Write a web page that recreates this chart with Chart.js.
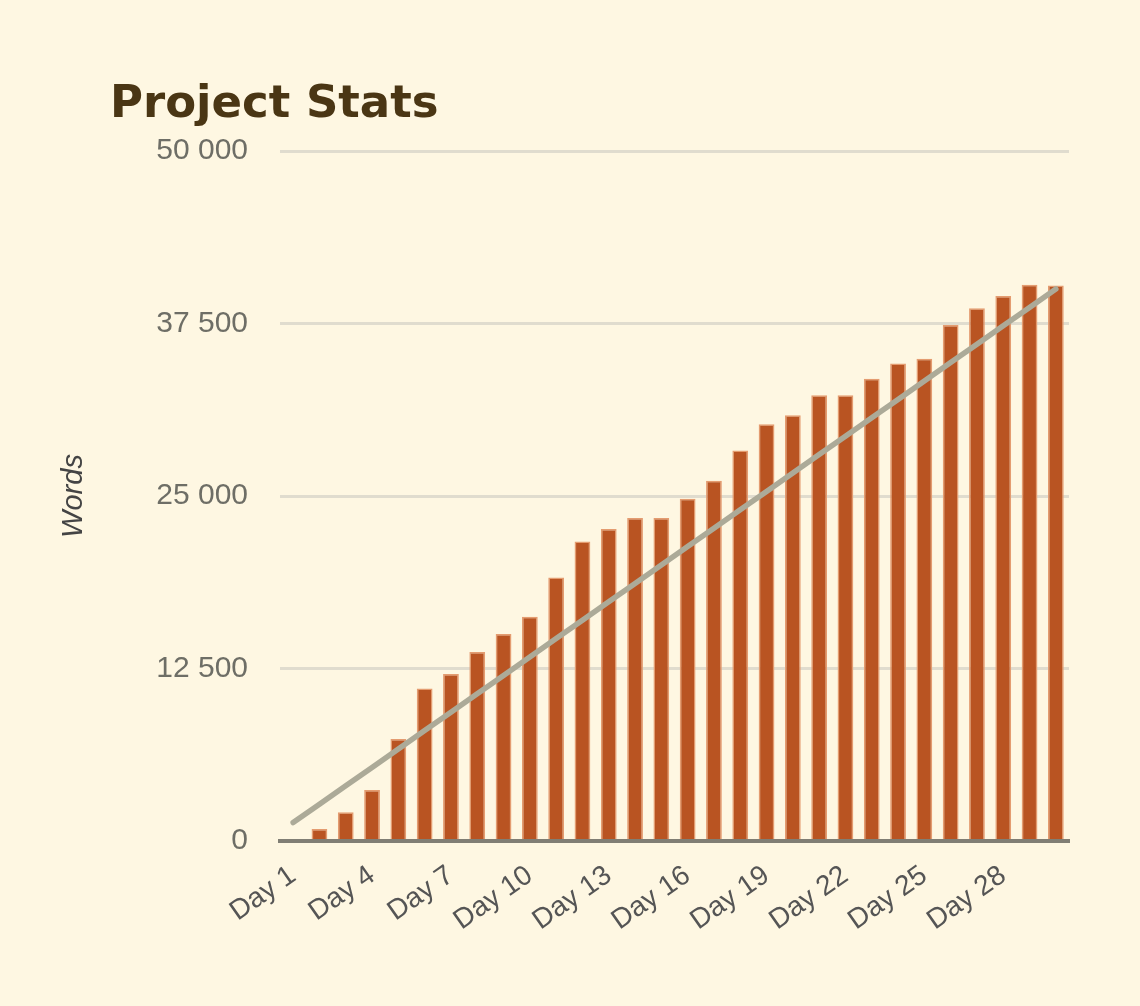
<!DOCTYPE html>
<html>
<head>
<meta charset="utf-8">
<title>Project Stats</title>
<script src="https://cdn.jsdelivr.net/npm/chart.js@4.4.1/dist/chart.umd.min.js"></script>
<style>
  html, body { margin: 0; padding: 0; background: #fef7e2; }
  #wrap { position: relative; width: 1140px; height: 1006px; }
</style>
</head>
<body>
<div id="wrap"><canvas id="statsChart" width="1140" height="1006"></canvas></div>
<script>
// days of the month
const days = ["Day 1", "Day 2", "Day 3", "Day 4", "Day 5", "Day 6", "Day 7", "Day 8", "Day 9", "Day 10",
  "Day 11", "Day 12", "Day 13", "Day 14", "Day 15", "Day 16", "Day 17", "Day 18", "Day 19", "Day 20",
  "Day 21", "Day 22", "Day 23", "Day 24", "Day 25", "Day 26", "Day 27", "Day 28", "Day 29", "Day 30"];

// words written so far (bars)
const wordCount = [0, 870, 2080, 3700, 7400, 11050, 12100, 13700, 15000, 16250,
  19100, 21700, 22600, 23400, 23400, 24800, 26100, 28300, 30200, 30850,
  32300, 32300, 33500, 34600, 34950, 37400, 38600, 39500, 40300, 40250];

// target line
const targetWords = [1333, 2667, 4000, 5333, 6667, 8000, 9333, 10667, 12000, 13333,
  14667, 16000, 17333, 18667, 20000, 21333, 22667, 24000, 25333, 26667,
  28000, 29333, 30667, 32000, 33333, 34667, 36000, 37333, 38667, 40000];

const yTickLabels = ["0", "12 500", "25 000", "37 500", "50 000"];

// title drawn onto the canvas
const titlePlugin = {
  id: "titleText",
  afterDraw(chart) {
    const ctx = chart.ctx;
    ctx.save();
    ctx.font = "bold 45px 'DejaVu Sans'";
    ctx.fillStyle = "#4a3614";
    ctx.textBaseline = "alphabetic";
    ctx.fillText("Project Stats", 110, 117);
    ctx.restore();
  }
};

const ctx = document.getElementById("statsChart").getContext("2d");
new Chart(ctx, {
  data: {
    labels: days,
    datasets: [
      {
        type: "line",
        label: "Target",
        data: targetWords,
        borderColor: "rgb(172, 170, 152)",
        borderWidth: 5.5,
        pointRadius: 0,
        borderCapStyle: "round",
        tension: 0,
        order: 0
      },
      {
        type: "bar",
        label: "Words",
        data: wordCount,
        backgroundColor: "rgb(185, 84, 34)",
        borderColor: "rgb(228, 156, 112)",
        borderWidth: 1.5,
        borderSkipped: "bottom",
        barPercentage: 0.6,
        categoryPercentage: 1,
        order: 1
      }
    ]
  },
  options: {
    responsive: false,
    animation: false,
    layout: { padding: { top: 151, right: 71, bottom: 0, left: 57 } },
    plugins: {
      legend: { display: false },
      tooltip: { enabled: false }
    },
    scales: {
      x: {
        grid: { display: false },
        border: { display: true, color: "rgb(128, 126, 116)", width: 4 },
        ticks: {
          autoSkip: false,
          minRotation: 35,
          maxRotation: 35,
          padding: 10,
          color: "#555",
          font: { family: "'Liberation Sans', Arial", size: 28 },
          callback: function(value, index) {
            return index % 3 === 0 ? days[index] : "";
          }
        },
        afterFit: function(scale) { scale.height = 165; }
      },
      y: {
        min: 0,
        max: 50000,
        border: { display: false },
        grid: {
          drawTicks: false,
          color: (c) => c.tick.value === 0 ? "rgb(128, 126, 116)" : "rgb(224, 220, 206)",
          lineWidth: (c) => c.tick.value === 0 ? 4 : 3
        },
        ticks: {
          stepSize: 12500,
          padding: 32,
          color: "#6e6e66",
          font: { family: "'Liberation Sans', Arial", size: 30 },
          callback: function(value, index) { return yTickLabels[index]; }
        },
        title: {
          display: true,
          text: "Words",
          color: "#444",
          padding: 0,
          font: { family: "'Liberation Sans', Arial", size: 29, style: "italic" }
        },
        afterFit: function(scale) { scale.width = 223; }
      }
    }
  },
  plugins: [titlePlugin]
});
</script>
</body>
</html>
